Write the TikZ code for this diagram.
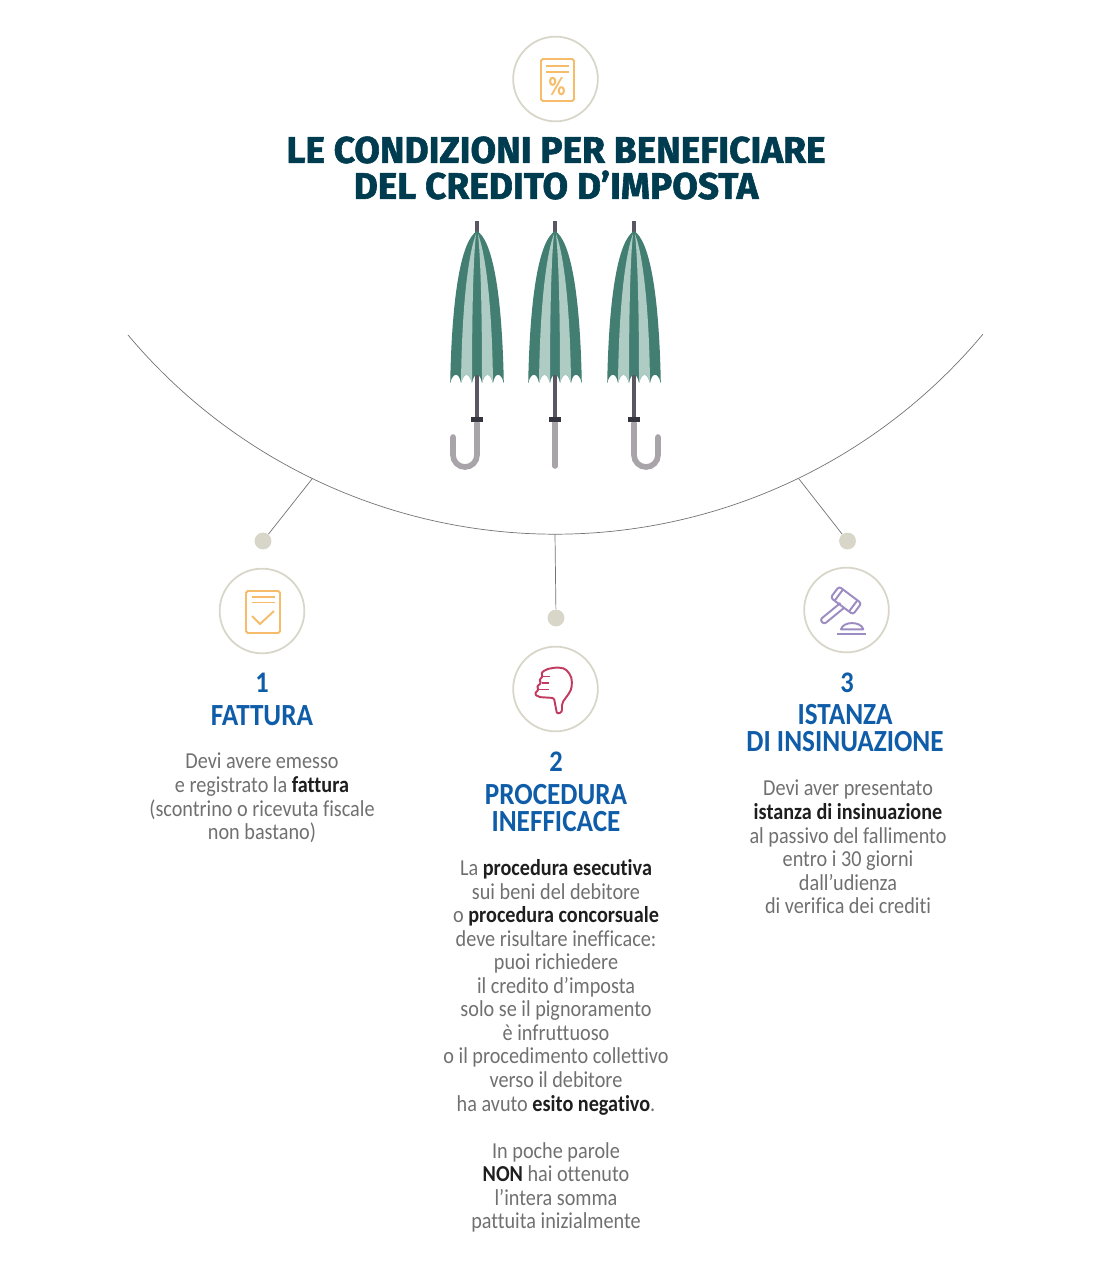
\documentclass[tikz,border=0pt]{standalone}
\usepackage{fontspec}
\setmainfont[Ligatures=NoCommon,FakeStretch=0.885]{Carlito}
\newfontfamily\titlefont[FakeBold=1.6]{Fira Sans}
\definecolor{titleteal}{HTML}{003C50}
\definecolor{headblue}{HTML}{0F5CA8}
\definecolor{bodygrey}{HTML}{707070}
\definecolor{boldblack}{HTML}{1E1E1E}
\definecolor{ringgrey}{HTML}{D8D6C8}
\definecolor{iconorange}{HTML}{F6BC6A}
\definecolor{iconred}{HTML}{C23A60}
\definecolor{iconpurple}{HTML}{9C8CC2}
\definecolor{canopygreen}{HTML}{427E72}
\definecolor{canopylight}{HTML}{AECCC3}
\definecolor{shaftgrey}{HTML}{5A5763}
\definecolor{handlegrey}{HTML}{A9A4A9}
\definecolor{collardark}{HTML}{35353F}
\tikzset{
  ring/.style={circle,draw=ringgrey,line width=1pt,fill=white,minimum size=48.2pt,inner sep=0pt},
  dot/.style={circle,fill=ringgrey,minimum size=9.6pt,inner sep=0pt},
  arcline/.style={draw=black!55,line width=0.4pt},
  handleline/.style={draw=handlegrey,line width=3.2pt,line cap=round},
  orangeicon/.style={draw=iconorange,line width=1.1pt},
  redicon/.style={draw=iconred,line width=1.1pt,line join=round},
  purpleicon/.style={draw=iconpurple,line width=1.1pt,line join=round},
  titletxt/.style={text=titleteal,align=center,font=\titlefont\bfseries\fontsize{21.1}{21.1}\selectfont},
  numtxt/.style={text=headblue,align=center,font=\bfseries\fontsize{17}{17}\selectfont},
  headtxt/.style={text=headblue,align=center,font=\bfseries\fontsize{17.5}{15.3}\selectfont},
  bodytxt/.style={text=bodygrey,align=center,font=\fontsize{13}{13.4}\selectfont},
  umbrella/.pic={
    \fill[shaftgrey] (-2,221) rectangle (2,233);
    \fill[shaftgrey] (-2,370) rectangle (2,419);
    \fill[collardark] (-6,416.5) rectangle (6,421.5);
    \fill[canopygreen] (0,231) .. controls (-15,240) and (-25,290) .. (-26.8,383)
      .. controls (-24,372) and (-18,372) .. (-16,383)
      .. controls (-13,372) and (-8,372) .. (-5,383)
      .. controls (-3,372) and (3,372) .. (5,383)
      .. controls (8,372) and (13,372) .. (16,383)
      .. controls (18,372) and (24,372) .. (26.8,383)
      .. controls (25,290) and (15,240) .. (0,231) -- cycle;
    \fill[canopylight] (-1,234) .. controls (-8,252) and (-15,300) .. (-16,383)
      .. controls (-13,372) and (-8,372) .. (-5,383)
      .. controls (-5,320) and (-4,262) .. (-1,234) -- cycle;
    \fill[canopylight] (1,234) .. controls (8,252) and (15,300) .. (16,383)
      .. controls (13,372) and (8,372) .. (5,383)
      .. controls (5,320) and (4,262) .. (1,234) -- cycle;
  }
}
\begin{document}
\begin{tikzpicture}[x=0.02cm,y=-0.02cm]
\useasboundingbox (0,0) rectangle (1112,1280);

% header
\node[ring] (ringtop) at (555.5,79) {};
\draw[orangeicon,rounded corners=1pt] (541,59) rectangle (574,101);
\draw[orangeicon] (546,66) -- (569,66);
\draw[orangeicon] (546,72) -- (569,72);
\node[text=iconorange,font=\bfseries\fontsize{15}{15}\selectfont] (percent) at (557,87) {\%};
\node[titletxt] (titleone) at (556,150) {LE CONDIZIONI PER BENEFICIARE};
\node[titletxt] (titletwo) at (556,185) {DEL CREDITO D’IMPOSTA};

% umbrellas
\draw[handleline] (477,423) -- (477,455) arc[start angle=0,end angle=180,radius=12] -- (453,437);
\draw[handleline] (555,423) -- (555,466);
\draw[handleline] (634,423) -- (634,455) arc[start angle=180,end angle=0,radius=12] -- (658,437);
\pic at (477,0) {umbrella};
\pic at (555,0) {umbrella};
\pic at (634,0) {umbrella};

% big arc
\coordinate (arcstart) at (128,335);
\coordinate (arcleft) at (312,479);
\coordinate (arcmid) at (555,534);
\coordinate (arcright) at (799,479);
\draw[arcline] (arcstart) arc[start angle=140,end angle=39.9,radius=557.6];

% dots
\node[dot] (dotone) at (263,541) {};
\node[dot] (dottwo) at (556,618) {};
\node[dot] (dotthree) at (847.5,541) {};
\draw[arcline] (arcleft) -- (dotone);
\draw[arcline] (arcmid) -- (dottwo);
\draw[arcline] (arcright) -- (dotthree);

% first column
\node[ring] (ringone) at (262,611) {};
\draw[orangeicon,rounded corners=1pt] (246,591) rectangle (280,633);
\draw[orangeicon] (252,597) -- (275,597);
\draw[orangeicon] (252,602.5) -- (275,602.5);
\draw[orangeicon] (252,616) -- (260,624) -- (274,611);
\node[numtxt] (numone) at (262,683) {1};
\node[headtxt] (headone) at (262,716) {FATTURA};
\node[bodytxt] (bodyone) at (262,798) {Devi avere emesso\\e registrato la \textcolor{boldblack}{\textbf{fattura}}\\(scontrino o ricevuta fiscale\\non bastano)};

% second column
\node[ring] (ringtwo) at (555.5,689) {};
\draw[redicon,rounded corners=1.2pt] (546,669.5) .. controls (555,667) and (564,667) .. (568,672)
  .. controls (573,678) and (572,687) .. (570,692) -- (562,703) -- (562,712) -- (557,714)
  -- (554,698) -- (538,697) -- (534.5,693.5) -- (539,689.5) -- (536.5,686.5) -- (541.5,683)
  -- (539,680) -- (543,676.5) -- (541,673) -- cycle;
\draw[redicon] (543,676.5) -- (550,676.5);
\draw[redicon] (541.5,683) -- (549,683);
\draw[redicon] (539,689.5) -- (548.5,689.5);
\node[numtxt] (numtwo) at (556,762) {2};
\node[headtxt] (headtwo) at (556,808) {PROCEDURA\\INEFFICACE};
\node[bodytxt] (bodytwo) at (556,1046) {La \textcolor{boldblack}{\textbf{procedura esecutiva}}\\sui beni del debitore\\o \textcolor{boldblack}{\textbf{procedura concorsuale}}\\deve risultare inefficace:\\puoi richiedere\\il credito d’imposta\\solo se il pignoramento\\è infruttuoso\\o il procedimento collettivo\\verso il debitore\\ha avuto \textcolor{boldblack}{\textbf{esito negativo}}.\\[13.4pt]In poche parole\\\textcolor{boldblack}{\textbf{NON}} hai ottenuto\\l’intera somma\\pattuita inizialmente};

% third column
\node[ring] (ringthree) at (846.5,610) {};
\draw[purpleicon,rounded corners=1.5pt] (853,614.5) -- (861.4,603.3) -- (839,586.5) -- (830.6,597.7) -- cycle;
\draw[purpleicon] (849,611.5) -- (857.4,600.3);
\draw[purpleicon] (834.6,600.7) -- (843,589.5);
\draw[purpleicon,rounded corners=1.5pt] (844.4,607.6) -- (824,624.3) -- (820,619.7) -- (840.4,603);
\draw[purpleicon] (841,629.3) .. controls (843,621) and (861,621) .. (863.3,629.3) -- cycle;
\draw[purpleicon] (837.3,633.7) -- (866.3,633.7);
\node[numtxt] (numthree) at (847,683) {3};
\node[headtxt] (headthree) at (845,728) {ISTANZA\\DI INSINUAZIONE};
\node[bodytxt] (bodythree) at (848,847) {Devi aver presentato\\\textcolor{boldblack}{\textbf{istanza di insinuazione}}\\al passivo del fallimento\\entro i 30 giorni\\dall’udienza\\di verifica dei crediti};
\end{tikzpicture}
\end{document}
